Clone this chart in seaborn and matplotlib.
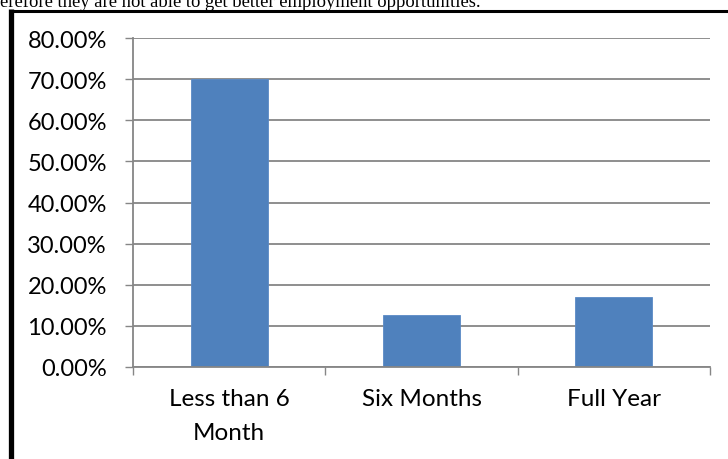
import matplotlib
matplotlib.use("Agg")
import matplotlib.pyplot as plt
import seaborn as sns
import pandas as pd
from matplotlib.lines import Line2D
from matplotlib.ticker import FixedLocator, FuncFormatter

categories = ["Less than 6\nMonth", "Six Months", "Full Year"]
values = [0.700, 0.127, 0.169]
y_ticks = [0.0, 0.1, 0.2, 0.3, 0.4, 0.5, 0.6, 0.7, 0.8]
caption = "erefore they are not able to get better employment opportunities."

sns.set_style("white")
plt.rcParams["font.family"] = ["Lato", "DejaVu Sans"]

W, H = 728, 460
fig = plt.figure(figsize=(W / 100, H / 100), dpi=100)
ax = fig.add_axes([133 / W, (H - 367.7) / H, 577 / W, 328.4 / H])

df = pd.DataFrame({"cat": categories, "val": values})
sns.barplot(data=df, x="cat", y="val", color="#4F81BD", saturation=1,
            width=0.4, ax=ax, edgecolor="#5A8AC6", linewidth=0.6)

ax.set_xlim(-0.5, 2.5)
ax.set_ylim(0, 0.8)
ax.set_xlabel("")
ax.set_ylabel("")

grid_c = "#868686"
ax.yaxis.set_major_locator(FixedLocator(y_ticks))
ax.yaxis.set_major_formatter(FuncFormatter(lambda v, p: f"{v*100:.2f}%"))
ax.yaxis.grid(True, color=grid_c, lw=1.3)
ax.set_axisbelow(True)
for s in ["top", "right"]:
    ax.spines[s].set_visible(False)
for s in ["left", "bottom"]:
    ax.spines[s].set_color(grid_c)
    ax.spines[s].set_linewidth(1.3)

ax.tick_params(axis="y", which="major", direction="out", length=5.8, width=1.0,
               color=grid_c, pad=13, labelsize=17, labelcolor="black", left=True)
ax.xaxis.set_minor_locator(FixedLocator([-0.5, 0.5, 1.5, 2.5]))
ax.tick_params(axis="x", which="minor", direction="out", length=5.8, width=1.0,
               color=grid_c, bottom=True)
ax.tick_params(axis="x", which="major", length=0, pad=15.5, labelsize=17.5,
               labelcolor="black")
for t in ax.get_xticklabels():
    t.set_linespacing(1.75)

fig.text(0, (H - 6.7) / H, caption, family=["Liberation Serif", "DejaVu Serif"],
         fontsize=13.4, ha="left", va="baseline", color="black")

fig.add_artist(Line2D([11 / W, 11 / W], [0, (H - 10) / H], transform=fig.transFigure,
                      color="black", lw=3.8, solid_capstyle="butt"))
fig.add_artist(Line2D([8.5 / W, 1.0], [(H - 12.2) / H, (H - 12.2) / H],
                      transform=fig.transFigure, color="black", lw=2.2,
                      solid_capstyle="butt"))

fig.savefig("out.png", dpi=100)
